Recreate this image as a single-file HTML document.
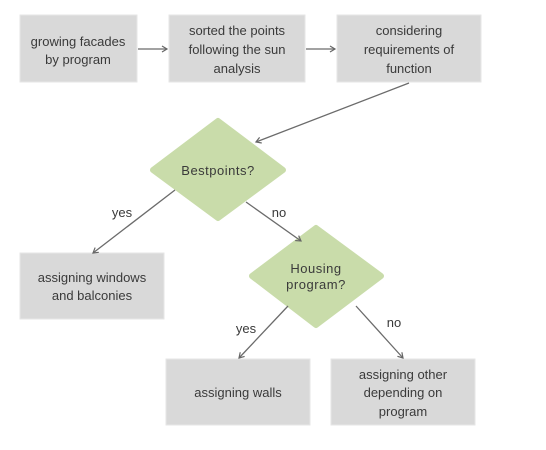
<!DOCTYPE html>
<html><head><meta charset="utf-8"><style>
html,body{margin:0;padding:0;background:#fff;}
svg{display:block}
text{font-family:"Liberation Sans",sans-serif;font-size:13px;fill:#3a3a3a;text-anchor:middle}
</style></head><body>
<svg width="546" height="450" viewBox="0 0 546 450">
<defs>
<marker id="a" markerWidth="8" markerHeight="8" refX="6" refY="4" orient="auto" markerUnits="userSpaceOnUse">
<path d="M1,1 L6,4 L1,7" fill="none" stroke="#666" stroke-width="1.2"/>
</marker>
</defs>
<g fill="#d9d9d9" stroke="#e6e6e6" stroke-width="1">
<rect x="20" y="15" width="117" height="67"/>
<rect x="169" y="15" width="136" height="67"/>
<rect x="337" y="15" width="144" height="67"/>
<rect x="20" y="253" width="144" height="66"/>
<rect x="166" y="359" width="144" height="66"/>
<rect x="331" y="359" width="144" height="66"/>
</g>
<g fill="#c9dcaa" stroke="#c9dcaa" stroke-width="6" stroke-linejoin="round">
<polygon points="218,121 283,170 218,218 153,170"/>
<polygon points="316,228 381,276 316,325 252,276"/>
</g>
<g stroke="#6b6b6b" stroke-width="1.3" fill="none" marker-end="url(#a)">
<line x1="138" y1="49" x2="167" y2="49"/>
<line x1="306" y1="49" x2="335" y2="49"/>
<line x1="409" y1="83" x2="256" y2="142"/>
<line x1="175" y1="190" x2="93" y2="253"/>
<line x1="246" y1="202" x2="301" y2="241"/>
<line x1="288" y1="306" x2="239" y2="358"/>
<line x1="356" y1="306" x2="403" y2="358"/>
</g>
<text x="78" y="46">growing facades</text>
<text x="78" y="64">by program</text>
<text x="237" y="35">sorted the points</text>
<text x="237" y="54">following the sun</text>
<text x="237" y="73">analysis</text>
<text x="409" y="35">considering</text>
<text x="409" y="54">requirements of</text>
<text x="409" y="73">function</text>
<text x="218" y="175" style="letter-spacing:0.5px">Bestpoints?</text>
<text x="122" y="217">yes</text>
<text x="279" y="217">no</text>
<text x="92" y="282">assigning windows</text>
<text x="92" y="300">and balconies</text>
<text x="316" y="273" style="letter-spacing:0.5px">Housing</text>
<text x="316" y="289" style="letter-spacing:0.5px">program?</text>
<text x="246" y="333">yes</text>
<text x="394" y="327">no</text>
<text x="238" y="397">assigning walls</text>
<text x="403" y="379">assigning other</text>
<text x="403" y="397">depending on</text>
<text x="403" y="416">program</text>
</svg>
</body></html>
